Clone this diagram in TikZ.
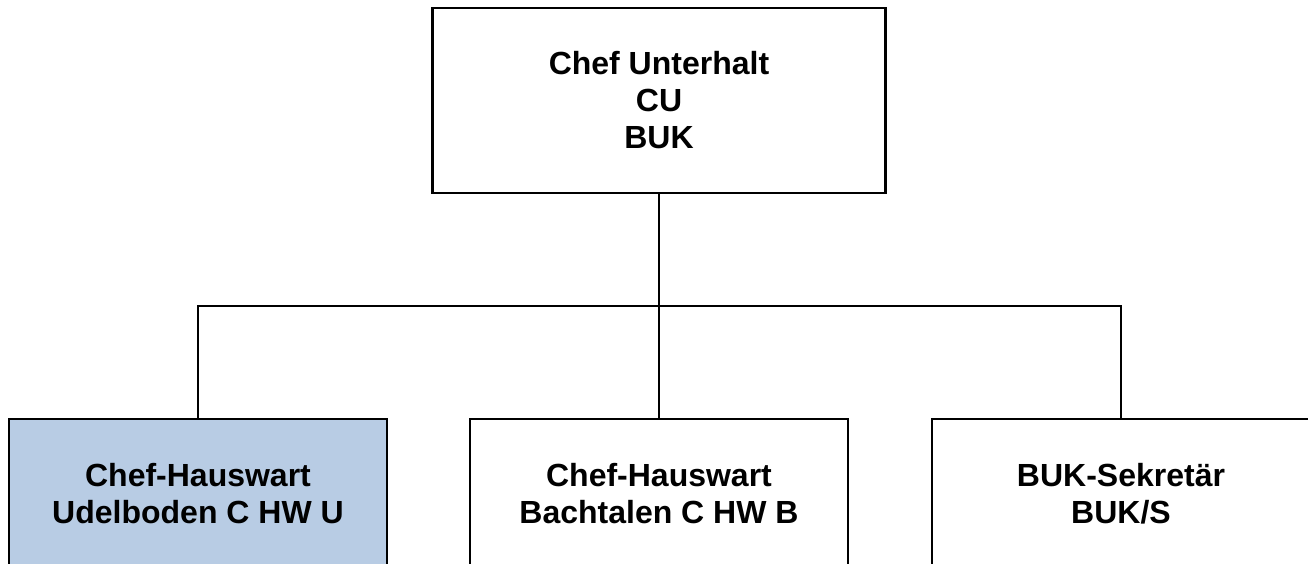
\documentclass[tikz,border=0pt]{standalone}
\usepackage{fontspec}
\setmainfont{Liberation Sans}
\definecolor{boxblue}{RGB}{184,204,228}
\begin{document}
\begin{tikzpicture}[x=1pt,y=-1pt,
  orgbox/.style={draw=black, line width=2.2pt, fill=white, align=center,
    font=\fontsize{32}{37}\selectfont\bfseries, inner sep=0pt},
  topbox/.style={orgbox, minimum width=453pt, minimum height=185pt},
  lowbox/.style={orgbox, minimum width=378pt, minimum height=150pt},
  conn/.style={draw=black, line width=2.2pt}]
\useasboundingbox (0,0) rectangle (1308,564);
\clip (0,0) rectangle (1308,564);
\fill[white] (0,0) rectangle (1308,564);
\node[topbox] (cu) at (659,100.5) {Chef Unterhalt\\CU\\BUK};
\node[lowbox, fill=boxblue] (hwu) at (198,494) {Chef-Hauswart\\Udelboden C HW U};
\node[lowbox] (hwb) at (659,494) {Chef-Hauswart\\Bachtalen C HW B};
\node[lowbox] (sek) at (1121,494) {BUK-Sekretär\\BUK/S};
\coordinate (bus) at (659,306);
\draw[conn] (cu.south) -- (cu.south |- bus);
\draw[conn, line join=miter] (hwu.north) -- (hwu.north |- bus) -- (sek.north |- bus) -- (sek.north);
\draw[conn] (hwb.north |- bus) -- (hwb.north);
\end{tikzpicture}
\end{document}
